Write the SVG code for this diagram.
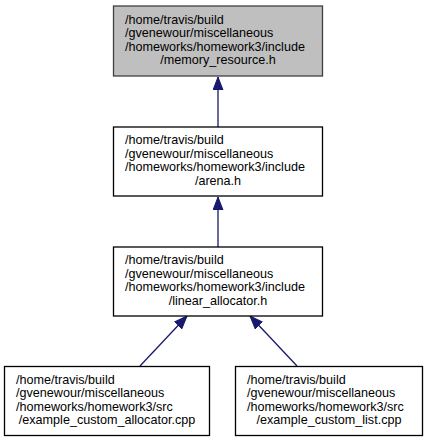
<svg xmlns="http://www.w3.org/2000/svg" width="428" height="443" viewBox="0 0 428 443">
<style>
.box{fill:#ffffff;stroke:#000000;stroke-width:1.3}
.cur{fill:#bfbfbf;stroke:#404040;stroke-width:1.3}
text{font-family:"Liberation Sans",Arial,Helvetica,sans-serif;font-size:12.6px;fill:#000000}
.c{text-anchor:middle}
.edge{stroke:#191970;stroke-width:1.3;fill:none;marker-end:url(#ah)}
</style>
<defs>
<marker id="ah" markerUnits="userSpaceOnUse" markerWidth="14" markerHeight="11" refX="13" refY="5" orient="auto" viewBox="0 0 14 10">
<path d="M0,0 L13,5 L0,10 z" fill="#191970" stroke="#191970" stroke-width="1"/>
</marker>
</defs>
<rect width="428" height="443" fill="#ffffff"/>
<g id="connectors">
<line class="edge" x1="218" y1="127" x2="218" y2="77"/>
<line class="edge" x1="218" y1="247" x2="218" y2="197"/>
<line class="edge" x1="140" y1="366" x2="187" y2="316"/>
<line class="edge" x1="297" y1="366" x2="250" y2="316"/>
</g>
<g id="node_memory_resource">
<rect class="cur" x="113.5" y="6" width="209" height="70"/>
<text x="125" y="23.5">/home/travis/build</text>
<text x="125" y="37">/gvenewour/miscellaneous</text>
<text x="125" y="50.5">/homeworks/homework3/include</text>
<text class="c" x="218" y="64">/memory_resource.h</text>
</g>
<g id="node_arena">
<rect class="box" x="113.5" y="127" width="209" height="69"/>
<text x="125" y="144">/home/travis/build</text>
<text x="125" y="157.5">/gvenewour/miscellaneous</text>
<text x="125" y="171">/homeworks/homework3/include</text>
<text class="c" x="218" y="184.5">/arena.h</text>
</g>
<g id="node_linear_allocator">
<rect class="box" x="113.5" y="247" width="209" height="69"/>
<text x="125" y="264">/home/travis/build</text>
<text x="125" y="277.5">/gvenewour/miscellaneous</text>
<text x="125" y="291">/homeworks/homework3/include</text>
<text class="c" x="218" y="304.5">/linear_allocator.h</text>
</g>
<g id="node_example_custom_allocator">
<rect class="box" x="4.5" y="366.5" width="205" height="69"/>
<text x="16" y="383.5">/home/travis/build</text>
<text x="16" y="397">/gvenewour/miscellaneous</text>
<text x="16" y="410.5">/homeworks/homework3/src</text>
<text class="c" x="107" y="424">/example_custom_allocator.cpp</text>
</g>
<g id="node_example_custom_list">
<rect class="box" x="235.5" y="366.5" width="187" height="69"/>
<text x="247" y="383.5">/home/travis/build</text>
<text x="247" y="397">/gvenewour/miscellaneous</text>
<text x="247" y="410.5">/homeworks/homework3/src</text>
<text class="c" x="329" y="424">/example_custom_list.cpp</text>
</g>
</svg>
